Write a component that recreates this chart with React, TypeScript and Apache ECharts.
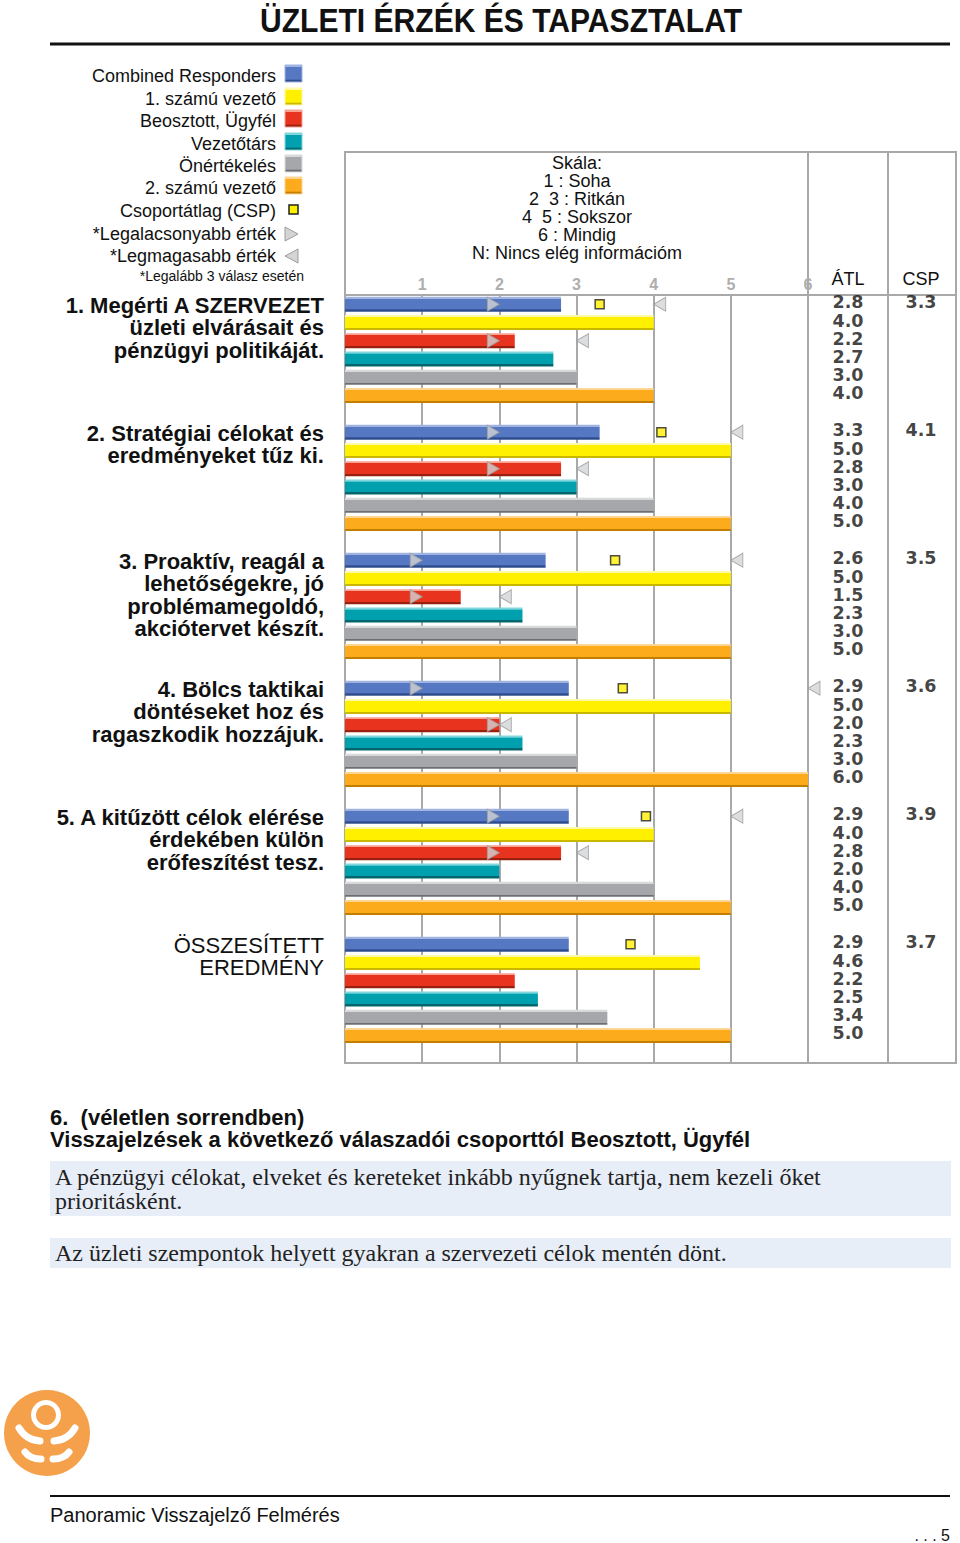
import React, { useEffect, useRef } from "react";
import * as echarts from "echarts";

// ---------- DATA ----------
const respondentGroups = [
  "Combined Responders",
  "1. számú vezető",
  "Beosztott, Ügyfél",
  "Vezetőtárs",
  "Önértékelés",
  "2. számú vezető",
];
const questionLines = [
  ["1. Megérti A SZERVEZET", "üzleti elvárásait és", "pénzügyi politikáját."],
  ["2. Stratégiai célokat és", "eredményeket tűz ki."],
  ["3. Proaktív, reagál a", "lehetőségekre, jó", "problémamegoldó,", "akciótervet készít."],
  ["4. Bölcs taktikai", "döntéseket hoz és", "ragaszkodik hozzájuk."],
  ["5. A kitűzött célok elérése", "érdekében külön", "erőfeszítést tesz."],
  ["ÖSSZESÍTETT", "EREDMÉNY"],
];
const combined = [2.8, 3.3, 2.6, 2.9, 2.9, 2.9];
const leader1 = [4.0, 5.0, 5.0, 5.0, 4.0, 4.6];
const staff = [2.2, 2.8, 1.5, 2.0, 2.8, 2.2];
const peers = [2.7, 3.0, 2.3, 2.3, 2.0, 2.5];
const selfRating = [3.0, 4.0, 3.0, 3.0, 4.0, 3.4];
const leader2 = [4.0, 5.0, 5.0, 6.0, 5.0, 5.0];
const groupAverage = [3.3, 4.1, 3.5, 3.6, 3.9, 3.7];
const combinedMin = [2, 2, 1, 1, 2, null];
const combinedMax = [4, 5, 5, 6, 5, null];
const staffMin = [2, 2, 1, 2, 2, null];
const staffMax = [3, 3, 2, 2, 3, null];
const scaleLines = ["Skála:", "1 : Soha", "2  3 : Ritkán", "4  5 : Sokszor", "6 : Mindig", "N: Nincs elég információm"];
const legendExtra = ["Csoportátlag (CSP)", "*Legalacsonyabb érték", "*Legmagasabb érték"];
const footnote = "*Legalább 3 válasz esetén";
const title = "ÜZLETI ÉRZÉK ÉS TAPASZTALAT";
const commentHeading = ["6.  (véletlen sorrendben)", "Visszajelzések a következő válaszadói csoporttól Beosztott, Ügyfél"];
const comments = [
  ["A pénzügyi célokat, elveket és kereteket inkább nyűgnek tartja, nem kezeli őket", "prioritásként."],
  ["Az üzleti szempontok helyett gyakran a szervezeti célok mentén dönt."],
];
const footerText = "Panoramic Visszajelző Felmérés";
const pageText = ". . . 5";

// ---------- STYLE ----------
const SANS = "'Liberation Sans', Arial, Helvetica, sans-serif";
const NUM = "'DejaVu Sans', 'Liberation Sans', sans-serif";
const SERIF = "'Liberation Serif', 'Times New Roman', serif";
const palette = [
  { main: "#5677c1", light: "#9fb3e0", dark: "#2e4d8e" },
  { main: "#fff000", light: "#fff9a8", dark: "#c9b800" },
  { main: "#e8341f", light: "#f6a090", dark: "#97200f" },
  { main: "#00a0ae", light: "#7fd6dd", dark: "#00666f" },
  { main: "#a5a7aa", light: "#d8d9db", dark: "#6c6e71" },
  { main: "#fbab1c", light: "#fdd593", dark: "#c47f00" },
];
const GRID_GRAY = "#a9a9a9";
const ROWS = 7;

function barFill(c: { main: string; light: string; dark: string }) {
  return new echarts.graphic.LinearGradient(0, 0, 0, 1, [
    { offset: 0, color: c.light },
    { offset: 0.13, color: c.light },
    { offset: 0.14, color: c.main },
    { offset: 0.85, color: c.main },
    { offset: 0.86, color: c.dark },
    { offset: 1, color: c.dark },
  ]);
}

function txt(x: number, y: number, text: string, font: string, align = "left", fill = "#111", extra: any = {}) {
  return {
    type: "text",
    x,
    y,
    z: 10,
    ...extra,
    style: { text, font, fill, textAlign: align, textVerticalAlign: "middle", align, verticalAlign: "middle" },
  };
}
function ln(x1: number, y1: number, x2: number, y2: number, stroke = GRID_GRAY, lineWidth = 2) {
  return { type: "line", z: 0, shape: { x1, y1, x2, y2 }, style: { stroke, lineWidth } };
}

function buildOption() {
  const valueSets = [combined, leader1, staff, peers, selfRating, leader2];
  const nGroups = combined.length;
  const categories = Array.from({ length: nGroups * ROWS }, (_, i) => `r${i}`);

  const barSeries = valueSets.map((vals, s) => {
    const data: any[] = categories.map(() => "-");
    vals.forEach((v, g) => (data[g * ROWS + s] = v));
    return {
      type: "bar",
      name: respondentGroups[s],
      xAxisIndex: 0,
      yAxisIndex: 0,
      barWidth: 15,
      barGap: "-100%",
      data,
      itemStyle: { color: barFill(palette[s]) },
      z: 3,
    };
  });

  const triStyle = { color: "#d3d4d6", borderColor: "#9c9c9c", borderWidth: 1 };
  const mkPoints = (arr: (number | null)[], row: number) =>
    arr.map((v, g) => (v == null ? null : [v, g * ROWS + row])).filter((p) => p !== null);

  const minSeries = {
    type: "scatter",
    xAxisIndex: 0,
    yAxisIndex: 0,
    clip: false,
    symbol: "path://M0,0L12,7L0,14Z",
    symbolSize: [12, 14],
    symbolOffset: [-6, 0],
    itemStyle: triStyle,
    data: [...mkPoints(combinedMin, 0), ...mkPoints(staffMin, 2)],
    z: 5,
  };
  const maxSeries = {
    type: "scatter",
    xAxisIndex: 0,
    yAxisIndex: 0,
    clip: false,
    symbol: "path://M12,0L0,7L12,14Z",
    symbolSize: [12, 14],
    symbolOffset: [6, 0],
    itemStyle: triStyle,
    data: [...mkPoints(combinedMax, 0), ...mkPoints(staffMax, 2)],
    z: 5,
  };
  const cspSeries = {
    type: "scatter",
    xAxisIndex: 0,
    yAxisIndex: 0,
    clip: false,
    symbol: "rect",
    symbolSize: 9,
    itemStyle: { color: "#fff000", borderColor: "#222", borderWidth: 1.5 },
    data: groupAverage.map((v, g) => [v, g * ROWS]),
    z: 6,
  };

  // ÁTL column: one stacked text block per question group (value y-axis in row units)
  const atlData = combined.map((_, g) => ({
    value: [40, g * ROWS + 3],
    label: { formatter: valueSets.map((vals) => vals[g].toFixed(1)).join("\n") },
  }));
  const atlSeries = {
    type: "scatter",
    xAxisIndex: 1,
    yAxisIndex: 1,
    clip: false,
    symbolSize: 1,
    itemStyle: { color: "rgba(0,0,0,0)" },
    label: {
      show: true,
      position: "inside",
      offset: [0, -2],
      fontFamily: NUM,
      fontWeight: "bold",
      fontSize: 17.5,
      lineHeight: 18.2,
      color: "#111",
    },
    data: atlData,
    z: 4,
  };
  const cspValSeries = {
    type: "scatter",
    xAxisIndex: 1,
    yAxisIndex: 1,
    clip: false,
    symbolSize: 1,
    itemStyle: { color: "rgba(0,0,0,0)" },
    label: {
      show: true,
      position: "inside",
      offset: [0, -2],
      fontFamily: NUM,
      fontWeight: "bold",
      fontSize: 17.5,
      color: "#111",
      formatter: (p: any) => Number(p.value[2]).toFixed(1),
    },
    data: groupAverage.map((v, g) => [113, g * ROWS + 0.5, v]),
    z: 4,
  };

  // ---------- graphic ----------
  const els: any[] = [];
  els.push(txt(501, 20, title, `bold 31px ${SANS}`, "center", "#111", { scaleX: 0.97, scaleY: 1.08 }));
  els.push(ln(50, 44, 950, 44, "#111", 3));

  // legend
  const legY = [76, 99, 121, 144, 166, 188, 211, 234, 256];
  respondentGroups.forEach((name, i) => {
    els.push(txt(276, legY[i], name, `18px ${SANS}`, "right", "#111"));
    els.push({
      type: "rect",
      z: 10,
      shape: { x: 285, y: legY[i] - 11, width: 17, height: 17 },
      style: { fill: barFill(palette[i]), stroke: palette[i].light, lineWidth: 1 },
    });
  });
  legendExtra.forEach((name, i) => els.push(txt(276, legY[6 + i], name, `18px ${SANS}`, "right", "#111")));
  els.push({ type: "rect", z: 10, shape: { x: 289, y: 205, width: 9, height: 9 }, style: { fill: "#fff000", stroke: "#222", lineWidth: 1.5 } });
  els.push({ type: "polygon", z: 10, shape: { points: [[285, 227], [298, 234], [285, 241]] }, style: { fill: "#d3d4d6", stroke: "#9c9c9c", lineWidth: 1 } });
  els.push({ type: "polygon", z: 10, shape: { points: [[298, 249], [285, 256], [298, 263]] }, style: { fill: "#d3d4d6", stroke: "#9c9c9c", lineWidth: 1 } });
  els.push(txt(304, 276, footnote, `14px ${SANS}`, "right", "#111"));

  // table frame
  els.push({ type: "rect", z: 0, shape: { x: 345, y: 152, width: 611, height: 911 }, style: { fill: "none", stroke: GRID_GRAY, lineWidth: 2 } });
  els.push(ln(345, 295, 956, 295));
  els.push(ln(808, 152, 808, 1063));
  els.push(ln(888, 152, 888, 1063));
  scaleLines.forEach((l, i) => els.push(txt(577, 163 + i * 18, l, `18px ${SANS}`, "center", "#111")));
  els.push(txt(848, 279, "ÁTL", `18px ${SANS}`, "center", "#111"));
  els.push(txt(921, 279, "CSP", `18px ${SANS}`, "center", "#111"));

  // question labels
  questionLines.forEach((lines, g) => {
    const last = g === questionLines.length - 1;
    lines.forEach((l, k) =>
      els.push(txt(324, 305 + g * 128 + k * 22.5, l, `${last ? "" : "bold "}22px ${SANS}`, "right", "#111"))
    );
  });

  // comments
  els.push(txt(50, 1117, commentHeading[0], `bold 22px ${SANS}`, "left", "#111"));
  els.push(txt(50, 1139, commentHeading[1], `bold 22px ${SANS}`, "left", "#111"));
  els.push({ type: "rect", z: 0, shape: { x: 50, y: 1161, width: 901, height: 55 }, style: { fill: "#e8eef8" } });
  els.push({ type: "rect", z: 0, shape: { x: 50, y: 1238, width: 901, height: 30 }, style: { fill: "#e8eef8" } });
  comments[0].forEach((l, k) => els.push(txt(55, 1177 + k * 24, l, `24px ${SERIF}`, "left", "#222")));
  els.push(txt(55, 1253, comments[1][0], `24px ${SERIF}`, "left", "#222"));

  // logo
  const OR = "#f5a04a";
  els.push({ type: "circle", z: 1, shape: { cx: 47, cy: 1433, r: 43 }, style: { fill: OR } });
  els.push({ type: "circle", z: 2, shape: { cx: 46, cy: 1415, r: 15 }, style: { fill: "#fff" } });
  els.push({ type: "circle", z: 3, shape: { cx: 46, cy: 1415, r: 10 }, style: { fill: OR } });
  els.push(ln(46.5, 1388, 46.5, 1402, "#fff", 6));
  els.push(ln(46.5, 1466, 46.5, 1479, "#fff", 4));
  const arm = (x1: number, y1: number, cx: number, cy: number, x2: number, y2: number) => ({
    type: "bezierCurve",
    z: 3,
    shape: { x1, y1, x2, y2, cpx1: cx, cpy1: cy },
    style: { stroke: "#fff", lineWidth: 7, lineCap: "round", fill: "none" },
  });
  els.push(arm(19, 1428, 26, 1440, 40, 1441));
  els.push(arm(75, 1428, 68, 1440, 54, 1441));
  els.push(arm(25, 1452, 30, 1459, 41, 1459));
  els.push(arm(69, 1452, 64, 1459, 53, 1459));

  // footer
  els.push(ln(50, 1496, 950, 1496, "#111", 2));
  els.push(txt(50, 1515, footerText, `20px ${SANS}`, "left", "#111"));
  els.push(txt(950, 1535, pageText, `16px ${SANS}`, "right", "#111"));

  return {
    animation: false,
    backgroundColor: "#fff",
    grid: [
      { left: 345, top: 295, width: 463, height: 768 },
      { left: 808, top: 295, width: 148, height: 768 },
    ],
    xAxis: [
      {
        type: "value",
        gridIndex: 0,
        min: 0,
        max: 6,
        interval: 1,
        position: "top",
        axisLine: { show: false },
        axisTick: { show: false },
        splitLine: { show: true, lineStyle: { color: GRID_GRAY, width: 2 } },
        axisLabel: {
          margin: 3,
          color: "#aeaeae",
          fontWeight: "bold",
          fontSize: 16,
          fontFamily: SANS,
          formatter: (v: number) => (v === 0 ? "" : String(v)),
        },
      },
      { type: "value", gridIndex: 1, min: 0, max: 148, show: false },
    ],
    yAxis: [
      { type: "category", gridIndex: 0, data: categories, inverse: true, show: false },
      { type: "value", gridIndex: 1, min: 0, max: nGroups * ROWS, inverse: true, show: false },
    ],
    graphic: { elements: els },
    series: [...barSeries, minSeries, maxSeries, cspSeries, atlSeries, cspValSeries],
  };
}

export default function App() {
  const ref = useRef<HTMLDivElement>(null);
  useEffect(() => {
    const chart = echarts.init(ref.current!, null, { renderer: "svg" });
    chart.setOption(buildOption() as any);
    return () => chart.dispose();
  }, []);
  return (
    <div
      ref={ref}
      style={{ position: "absolute", left: 0, top: 0, width: 960, height: 1543, background: "#fff" }}
    />
  );
}
